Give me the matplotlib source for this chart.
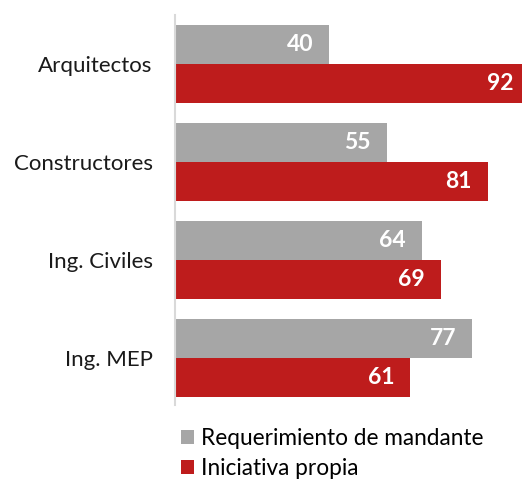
import matplotlib.pyplot as plt
import numpy as np

categories = ["Arquitectos", "Constructores", "Ing. Civiles", "Ing. MEP"]
requerimiento = [40, 55, 64, 77]
iniciativa = [92, 81, 69, 61]
series_names = ["Requerimiento de mandante", "Iniciativa propia"]

gray = "#a6a6a6"
red = "#be1c1c"

plt.rcParams["font.family"] = ["Lato", "DejaVu Sans"]

fig = plt.figure(figsize=(5.22, 4.83), dpi=100)
# axes runs past the right edge so the 92 bar gets clipped like the original
ax = fig.add_axes([175 / 522, 1 - 405 / 483, 355 / 522, 390 / 483])

y = np.arange(len(categories))
h = 0.4
b1 = ax.barh(y - h / 2, requerimiento, height=h, color=gray, label=series_names[0])
b2 = ax.barh(y + h / 2, iniciativa, height=h, color=red, label=series_names[1])

for bars, vals in [(b1, requerimiento), (b2, iniciativa)]:
    for bar, v in zip(bars, vals):
        ax.text(bar.get_width() - 4.2, bar.get_y() + bar.get_height() / 2, str(v),
                ha="right", va="center", color="white", fontsize=16.5, fontweight="bold")

ax.set_xlim(0, 92)
ax.set_ylim(3.48, -0.5)
ax.set_yticks(y)
ax.set_yticklabels(categories, fontsize=16, color="#1a1a1a")
ax.tick_params(axis="y", length=0, pad=16)
ax.set_xticks([])
for s in ["top", "right", "bottom"]:
    ax.spines[s].set_visible(False)
ax.spines["left"].set_color("#d9d9d9")
ax.spines["left"].set_linewidth(1.5)

fig.legend(handles=[b1, b2], loc="upper left", bbox_to_anchor=(172 / 522, 1 - 419 / 483),
           frameon=False, fontsize=16.3, handlelength=0.55, handleheight=0.55,
           handletextpad=0.35, labelspacing=0.4, borderaxespad=0)

plt.savefig("out.png", dpi=100)
